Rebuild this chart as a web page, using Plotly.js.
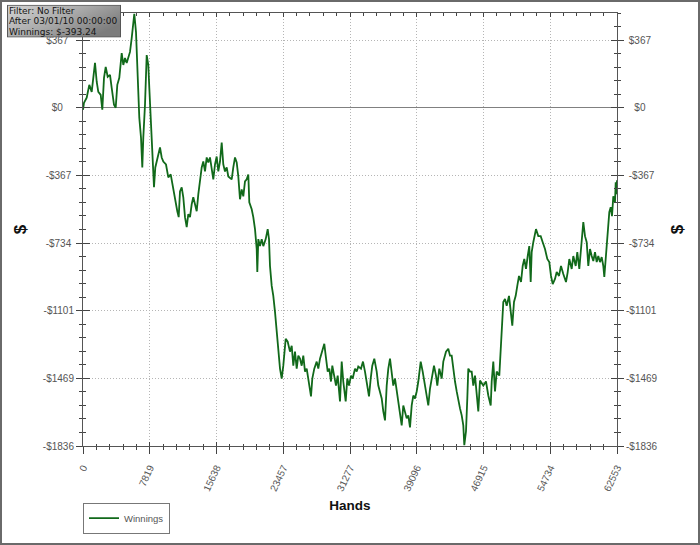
<!DOCTYPE html>
<html>
<head>
<meta charset="utf-8">
<script src="https://cdn.plot.ly/plotly-3.0.1.min.js"></script>
<style>
  html, body { margin: 0; padding: 0; background: #fff; }
  #wrap { position: relative; width: 700px; height: 545px; }
  #chart { width: 700px; height: 545px; }
  #frame { position: absolute; left: 0; top: 0; width: 700px; height: 545px; box-sizing: border-box; border: 2px solid #6a6a6a; pointer-events: none; }
</style>
</head>
<body>
<div id="wrap"><div id="chart"></div><div id="frame"></div></div>
<script>
// ---- data ----
const hands = [0,117,433,738,1019,1406,1605,1792,2073,2261,2460,2659,2893,3163,3362,3631,3830,4018,4252,4533,4721,4920,5119,5306,5506,5705,5892,6009,6208,6361,6478,6595,6794,6946,7064,7263,7462,7649,7766,7930,8047,8165,8317,8469,8703,9020,9219,9406,9723,9992,10273,10508,10777,11046,11210,11363,11562,11749,11948,12147,12335,12534,12733,12920,13120,13319,13506,13705,13904,14092,14291,14490,14678,14877,15076,15263,15462,15661,15849,16048,16247,16435,16634,16833,17020,17419,17606,17805,18004,18192,18391,18590,18778,18977,19176,19363,19480,19762,19949,20148,20347,20418,20535,20734,20933,21121,21402,21636,21788,21905,22105,22292,22491,22690,22878,23077,23276,23463,23744,23979,24248,24447,24635,24834,25033,25220,25419,25618,25806,26005,26204,26392,26708,26860,27094,27376,27563,27762,28032,28266,28430,28664,28852,29051,29203,29437,29636,29835,30105,30304,30491,30772,30960,31159,31394,31593,31862,32061,32249,32565,32799,33033,33268,33502,33701,33888,34123,34404,34591,34791,34990,35177,35376,35575,35763,35962,36161,36348,36548,36747,36934,37133,37332,37520,37719,37918,38106,38305,38504,38691,38890,39089,39277,39558,39792,40062,40261,40448,40648,40847,41116,41351,41503,41737,42018,42206,42522,42791,42990,43189,43377,43576,43775,43963,44162,44361,44549,44666,44865,45017,45134,45333,45532,45720,45919,46306,46505,46891,47207,47477,47758,47875,48063,48262,48461,48765,48929,49082,49234,49433,49632,49902,50101,50288,50487,50686,50873,51073,51307,51506,51693,51892,52091,52279,52443,52560,52748,53064,53334,53615,53849,54119,54388,54622,54822,55021,55290,55489,55759,55993,56262,56579,56778,56966,57247,57434,57715,57903,58137,58301,58453,58606,58805,59004,59191,59390,59589,59777,59976,60175,60362,60561,60761,60948,61065,61264,61381,61534,61651,61815,61967,62120,62319,62401,62518,62553];
const winnings = [-11,27,54,124,86,243,141,86,70,-11,162,222,168,178,108,16,0,124,162,297,232,270,243,276,303,378,465,510,411,232,86,-54,-162,-324,-162,16,286,232,108,-38,-162,-270,-432,-324,-270,-216,-270,-292,-308,-378,-362,-427,-508,-562,-594,-454,-432,-486,-594,-648,-578,-594,-524,-486,-524,-562,-470,-378,-324,-292,-346,-270,-297,-270,-346,-389,-308,-265,-346,-292,-189,-308,-346,-324,-373,-389,-324,-270,-297,-373,-497,-443,-481,-400,-389,-362,-513,-551,-594,-659,-767,-892,-713,-751,-713,-751,-713,-659,-713,-859,-967,-1021,-1108,-1216,-1324,-1416,-1470,-1400,-1254,-1270,-1324,-1292,-1400,-1324,-1416,-1346,-1362,-1400,-1346,-1432,-1416,-1470,-1567,-1470,-1416,-1378,-1416,-1362,-1324,-1281,-1346,-1432,-1416,-1486,-1400,-1470,-1508,-1454,-1594,-1378,-1486,-1594,-1470,-1508,-1454,-1470,-1416,-1432,-1405,-1416,-1378,-1432,-1508,-1567,-1470,-1400,-1362,-1432,-1508,-1540,-1578,-1648,-1697,-1508,-1416,-1362,-1454,-1508,-1470,-1540,-1578,-1648,-1724,-1616,-1648,-1686,-1670,-1735,-1616,-1562,-1578,-1540,-1486,-1378,-1432,-1508,-1540,-1616,-1524,-1470,-1400,-1454,-1508,-1416,-1470,-1378,-1324,-1308,-1346,-1346,-1432,-1486,-1540,-1594,-1632,-1670,-1724,-1832,-1756,-1578,-1416,-1432,-1432,-1508,-1454,-1648,-1481,-1508,-1486,-1562,-1616,-1486,-1378,-1540,-1432,-1454,-1324,-1162,-1054,-1038,-1075,-1021,-1108,-1183,-1054,-1021,-967,-913,-946,-859,-821,-875,-805,-751,-946,-784,-730,-659,-697,-697,-730,-767,-821,-838,-913,-957,-929,-892,-913,-859,-902,-946,-892,-821,-875,-805,-859,-784,-875,-767,-713,-621,-697,-730,-859,-767,-805,-832,-784,-838,-805,-838,-811,-859,-919,-805,-730,-643,-567,-540,-589,-481,-513,-405,-470,-393.24];

const xTickVals = [0, 7819, 15638, 23457, 31277, 39096, 46915, 54734, 62553];
const xTickText = ['0', '7819', '15638', '23457', '31277', '39096', '46915', '54734', '62553'];
const yTickVals = [367.2, 0, -367.2, -734.4, -1101.6, -1468.8, -1836];
const yTickText = ['$367', '$0', '-$367', '-$734', '-$1101', '-$1469', '-$1836'];
const seriesName = 'Winnings';
const xTitle = 'Hands';
const yTitle = '$';
const infoLines = ['Filter: No Filter', 'After 03/01/10 00:00:00', 'Winnings: $-393.24'];

// ---- chart ----
const xRange = [0, 62553];
const yRange = [-1836, 514.08];
const tickFont = { family: 'Liberation Sans, Arial, sans-serif', size: 10, color: '#555' };
const titleFontY = { family: 'Liberation Sans, Arial, sans-serif', size: 17, color: '#111', weight: 'bold' };
const axisCol = '#555';
const tickCol = '#444';
const gridDash = '1px,2px';

// y labels in the reference sit roughly centred in their column: pad with no-break spaces
const NB = '\u00A0';
function labelWidth(t) { return t.length - (t.startsWith('-') ? 0.4 : 0); }
const yTextLeft = yTickText.map(t => t + NB.repeat(Math.max(0, Math.round(5.6 - labelWidth(t)))));
const yTextRight = yTickText.map(t => NB.repeat(Math.max(0, Math.round((5.6 - labelWidth(t)) * 0.8))) + t);

const trace = {
  type: 'scatter', mode: 'lines', name: seriesName,
  x: hands, y: winnings,
  line: { color: '#11691a', width: 1.8 },
  hoverinfo: 'skip'
};
function helper(xa, ya) {
  return { type: 'scatter', mode: 'lines', x: [], y: [], xaxis: xa, yaxis: ya, showlegend: false, hoverinfo: 'skip' };
}
const traces = [trace, helper('x2', 'y'), helper('x3', 'y'), helper('x', 'y2'), helper('x', 'y3'), helper('x', 'y4')];

const boxSvg = "<svg xmlns='http://www.w3.org/2000/svg' width='114' height='33' viewBox='0 0 114 33'>" +
  "<defs><linearGradient id='g' x1='0' y1='0' x2='1' y2='0.6'>" +
  "<stop offset='0' stop-color='#d4d4d4'/><stop offset='0.55' stop-color='#a8a8a8'/><stop offset='1' stop-color='#7c7c7c'/>" +
  "</linearGradient></defs>" +
  "<rect x='0.5' y='0.5' width='113' height='32' fill='url(#g)' stroke='#555' stroke-width='1'/></svg>";
const boxSrc = 'data:image/svg+xml;charset=utf-8,' + encodeURIComponent(boxSvg);

const infoFont = { family: 'DejaVu Sans, sans-serif', size: 9, color: '#151515' };
const infoY = [1.0053, 0.9808, 0.9566];
const infoAnn = infoLines.map((t, i) => ({
  xref: 'paper', yref: 'paper', x: -0.1405, y: infoY[i], xanchor: 'left', yanchor: 'middle',
  text: t, showarrow: false, font: infoFont, borderpad: 0
}));

const layout = {
  width: 700, height: 545,
  margin: { l: 83, r: 83, t: 13, b: 97, pad: 0 },
  paper_bgcolor: '#fff', plot_bgcolor: 'rgba(0,0,0,0)',
  showlegend: true,
  legend: {
    x: 0.0, xanchor: 'left', y: -0.2023, yanchor: 'bottom',
    bgcolor: '#fff', bordercolor: '#777', borderwidth: 1,
    font: { family: 'Liberation Sans, Arial, sans-serif', size: 9.5, color: '#555' },
    itemwidth: 30, tracegroupgap: 0
  },
  xaxis: {
    range: xRange, tickmode: 'array', tickvals: xTickVals, ticktext: xTickText,
    tickangle: -65, tickfont: tickFont, ticklabelstandoff: 4,
    ticks: 'outside', ticklen: 7, tickcolor: tickCol, tickwidth: 1,
    minor: { tick0: 0, dtick: 62553 / 40, ticks: 'outside', ticklen: 3, tickcolor: tickCol, showgrid: false },
    showline: true, linecolor: axisCol, linewidth: 1,
    showgrid: true, gridcolor: '#b5b5b5', griddash: gridDash, gridwidth: 1,
    zeroline: false, fixedrange: true,
    title: { text: xTitle, font: { family: 'Liberation Sans, Arial, sans-serif', size: 13.5, color: '#111', weight: 'bold' }, standoff: 8 }
  },
  xaxis2: {
    overlaying: 'x', anchor: 'y', side: 'bottom', range: xRange,
    tickmode: 'array', tickvals: xTickVals, showticklabels: false,
    ticks: 'inside', ticklen: 4, tickcolor: tickCol,
    minor: { tick0: 0, dtick: 62553 / 40, ticks: 'inside', ticklen: 2, tickcolor: tickCol, showgrid: false },
    showline: false, showgrid: false, zeroline: false, fixedrange: true
  },
  xaxis3: {
    overlaying: 'x', anchor: 'y', side: 'top', range: xRange,
    tickmode: 'array', tickvals: xTickVals, showticklabels: false,
    ticks: 'inside', ticklen: 4, tickcolor: tickCol,
    minor: { tick0: 0, dtick: 62553 / 40, ticks: 'inside', ticklen: 3, tickcolor: tickCol, showgrid: false },
    showline: true, linecolor: axisCol, showgrid: false, zeroline: false, fixedrange: true
  },
  yaxis: {
    range: yRange, tickmode: 'array', tickvals: yTickVals, ticktext: yTextLeft,
    tickfont: tickFont,
    ticks: 'outside', ticklen: 6, tickcolor: tickCol,
    minor: { tick0: 0, dtick: 73.44, ticks: 'outside', ticklen: 3, tickcolor: tickCol, showgrid: false },
    showline: true, linecolor: axisCol,
    showgrid: true, gridcolor: '#b5b5b5', griddash: gridDash,
    zeroline: true, zerolinecolor: '#808080', zerolinewidth: 1.2, fixedrange: true,
    title: { text: yTitle, font: titleFontY, standoff: 11 }
  },
  yaxis2: {
    overlaying: 'y', anchor: 'x', side: 'left', range: yRange,
    tickmode: 'array', tickvals: yTickVals, showticklabels: false,
    ticks: 'inside', ticklen: 7, tickcolor: tickCol,
    minor: { tick0: 0, dtick: 73.44, ticks: 'inside', ticklen: 3, tickcolor: tickCol, showgrid: false },
    showline: false, showgrid: false, zeroline: false, fixedrange: true
  },
  yaxis3: {
    overlaying: 'y', anchor: 'x', side: 'right', range: yRange,
    tickmode: 'array', tickvals: yTickVals, ticktext: yTextRight, tickfont: tickFont,
    ticks: 'outside', ticklen: 6, tickcolor: tickCol,
    minor: { tick0: 0, dtick: 73.44, ticks: 'outside', ticklen: 3, tickcolor: tickCol, showgrid: false },
    showline: true, linecolor: axisCol, showgrid: false, zeroline: false, fixedrange: true,
    title: { text: yTitle, font: titleFontY, standoff: 14 }
  },
  yaxis4: {
    overlaying: 'y', anchor: 'x', side: 'right', range: yRange,
    tickmode: 'array', tickvals: yTickVals, showticklabels: false,
    ticks: 'inside', ticklen: 6, tickcolor: tickCol,
    minor: { tick0: 0, dtick: 73.44, ticks: 'inside', ticklen: 3, tickcolor: tickCol, showgrid: false },
    showline: false, showgrid: false, zeroline: false, fixedrange: true
  },
  images: [{
    source: boxSrc, xref: 'paper', yref: 'paper',
    x: -0.1423, y: 1.0191, sizex: 0.21348, sizey: 0.07586,
    xanchor: 'left', yanchor: 'top', sizing: 'stretch', layer: 'above'
  }],
  annotations: infoAnn
};

Plotly.newPlot('chart', traces, layout, { displayModeBar: false, staticPlot: true });
</script>
</body>
</html>
